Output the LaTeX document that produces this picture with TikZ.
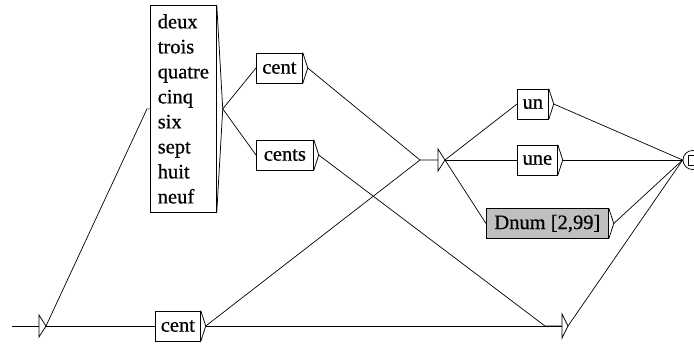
\documentclass[tikz,border=0pt]{standalone}
\usepackage{fontspec}
\setmainfont{Liberation Serif}
\newfontfamily\boxfont[FakeBold=0.6]{Liberation Serif}
\begin{document}
\begin{tikzpicture}[x=1pt,y=-1pt,line width=0.75pt,
  box/.style={draw, anchor=west, inner sep=0pt, minimum height=30pt,
              font=\boxfont\fontsize{20.5}{25}\selectfont},
  wire/.style={line width=0.7pt}]
\useasboundingbox (0,0) rectangle (694,343);

% boxes of the graph
\node[box, anchor=north west, minimum width=66pt, minimum height=207pt, align=left]
  (digits) at (150,5) {deux\\trois\\quatre\\cinq\\six\\sept\\huit\\neuf};
\node[box, minimum width=46pt] (centA) at (256,68) {cent};
\node[box, minimum width=57pt] (cents) at (256,155) {cents};
\node[box, minimum width=45pt] (centB) at (155,326) {cent};
\node[box, minimum width=31pt] (un) at (517,104) {un};
\node[box, minimum width=40pt] (une) at (517,160) {une};
\node[box, minimum width=122pt, fill=black!25] (dnum) at (486,223.5) {Dnum [2,99]};

% output wedges on the right side of each box
\foreach \b in {centA,cents,centB,un,une,dnum}{
  \draw (\b.north east) -- ([xshift=5pt]\b.east) coordinate (\b-o) -- (\b.south east);
}
\draw (digits.north east) -- ([xshift=6pt]digits.east) coordinate (digits-o) -- (digits.south east);

% initial state
\coordinate (start) at (12,326);
\coordinate (initbase) at (39,326);
\draw (39,315) -- (46,326) coordinate (init) -- (39,337) -- cycle;

% empty transitions
\draw (438,149) -- (445,160) coordinate (epsA) -- (438,171) -- cycle;
\coordinate (epsAbase) at (438,160);
\coordinate (epsAin) at (420,160);
\draw (562,314) -- (568,326) coordinate (epsB) -- (562,338) -- cycle;
\coordinate (epsBbase) at (562,326);
\coordinate (epsBin) at (545,326);

% final state
\node[draw, circle, minimum size=19pt, inner sep=0pt] (fin) at (692.5,160) {};
\draw (688,155) rectangle (700,165);

% connectors
\draw[wire] (start) -- (initbase);
\draw[wire] (init) -- ([xshift=-3pt]digits.west) -- (digits.west);
\draw[wire] (init) -- (centB.west);
\draw[wire] (digits-o) -- (centA.west);
\draw[wire] (digits-o) -- (cents.west);
\draw[wire] (centA-o) -- (epsAin) -- (epsAbase);
\draw[wire] (centB-o) -- (epsAin);
\draw[wire] (cents-o) -- (epsBin) -- (epsBbase);
\draw[wire] (centB-o) -- (epsBbase);
\draw[wire] (epsA) -- (un.west);
\draw[wire] (epsA) -- (une.west);
\draw[wire] (epsA) -- (dnum.west);
\draw[wire] (un-o) -- (fin.west);
\draw[wire] (une-o) -- (fin.west);
\draw[wire] (dnum-o) -- (fin.west);
\draw[wire] (epsB) -- (fin.west);
\end{tikzpicture}
\end{document}
